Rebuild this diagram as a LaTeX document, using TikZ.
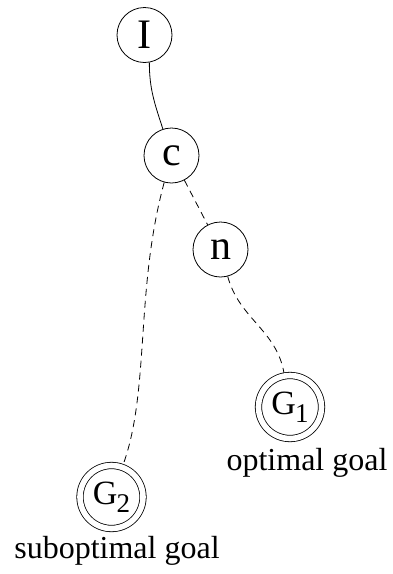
\documentclass[tikz,border=0pt]{standalone}
\usepackage{fontspec}
\setmainfont{Liberation Serif}
\usetikzlibrary{positioning}

\newcommand{\goalname}[1]{G\kern-1pt\raisebox{-8pt}{\fontsize{27}{30}\selectfont #1}}

\begin{document}
\begin{tikzpicture}[x=1pt, y=-1pt, line width=0.8pt,
    state/.style={circle, draw, minimum size=55pt, inner sep=0pt, font=\fontsize{42}{46}\selectfont},
    goal/.style={circle, draw, double, double distance=5.6pt, minimum size=63pt, inner sep=0pt, outer sep=3.2pt, font=\fontsize{34}{38}\selectfont},
    label/.style={inner sep=0pt, font=\fontsize{32}{36}\selectfont},
    path/.style={dashed, dash pattern=on 7pt off 5pt}]
    \useasboundingbox (0,0) rectangle (393,574);
    \node[state] (I) at (144.5,35) {I};
    \node[state] (c) at (171.5,155.5) {c};
    \node[state] (n) at (220.5,249.5) {n};
    \node[goal] (G1) at (290,407) {\goalname{1}};
    \node[goal] (G2) at (111.5,497) {\goalname{2}};
    \node[label] (opt) at (307,462.5) {optimal goal};
    \node[label] (subopt) at (117,550.5) {suboptimal goal};
    \draw (I.-80) to[out=-90, in=108] (c);
    \draw[path] (c) to (n);
    \draw[path] (c) .. controls (135,290) and (150,390) .. (G2);
    \draw[path] (n) to[out=-75, in=100] (G1);
\end{tikzpicture}
\end{document}
